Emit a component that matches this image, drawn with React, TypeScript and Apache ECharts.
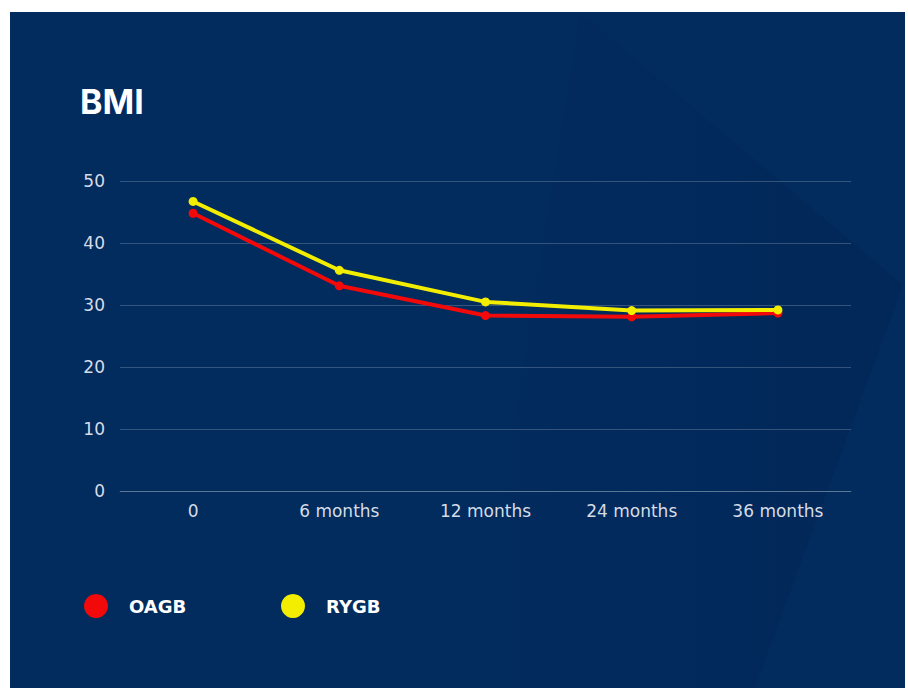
import React, { useEffect, useRef } from "react";
import * as echarts from "echarts";

const categories = ["0", "6 months", "12 months", "24 months", "36 months"];
const oagbValues = [44.8, 33.1, 28.3, 28.1, 28.7];
const rygbValues = [46.7, 35.6, 30.5, 29.1, 29.2];
const seriesNames = ["OAGB", "RYGB"];
const titleText = "BMI";

const FONT = "'DejaVu Sans', 'Noto Sans', sans-serif";
const TITLE_FONT = "Inter, 'Noto Sans', sans-serif";

export default function App() {
  const ref = useRef<HTMLDivElement>(null);
  useEffect(() => {
    if (!ref.current) return;
    const chart = echarts.init(ref.current, null, { renderer: "svg" });
    const gridColor = "rgba(255,255,255,0.2)";
    const legendText = {
      color: "#ffffff",
      fontSize: 18,
      fontWeight: "bold",
      fontFamily: FONT,
      padding: [0, 0, 0, 16],
    };
    chart.setOption({
      animation: false,
      backgroundColor: "#ffffff",
      graphic: [
        {
          type: "rect",
          z: -10,
          shape: { x: 10, y: 12, width: 895, height: 676 },
          style: { fill: "#022b5e" },
        },
        {
          type: "polygon",
          z: -9,
          shape: { points: [[580, 12], [903, 285], [755, 688], [470, 688]] },
          style: {
            fill: {
              type: "linear", x: 0, y: 0, x2: 1, y2: 0,
              colorStops: [
                { offset: 0, color: "rgba(0,20,60,0)" },
                { offset: 1, color: "rgba(0,20,60,0.15)" },
              ],
            },
          },
        },
      ],
      title: {
        text: titleText,
        left: 80,
        top: 84,
        padding: 0,
        textStyle: { color: "#ffffff", fontSize: 34, fontWeight: "bold", fontFamily: TITLE_FONT },
      },
      legend: [
        {
          data: [seriesNames[0]],
          left: 84,
          top: 594,
          padding: 0,
          icon: "circle",
          itemWidth: 24,
          itemHeight: 24,
          textStyle: legendText,
        },
        {
          data: [seriesNames[1]],
          left: 281,
          top: 594,
          padding: 0,
          icon: "circle",
          itemWidth: 24,
          itemHeight: 24,
          textStyle: legendText,
        },
      ],
      grid: { left: 120, right: 57, top: 181, bottom: 197, containLabel: false },
      xAxis: {
        type: "category",
        data: categories,
        boundaryGap: true,
        axisTick: { show: false },
        axisLine: { show: true, lineStyle: { color: gridColor, width: 1 } },
        axisLabel: { color: "#d6dce6", fontSize: 17, margin: 11, fontFamily: FONT },
      },
      yAxis: {
        type: "value",
        min: 0,
        max: 50,
        interval: 10,
        axisLine: { show: false },
        axisTick: { show: false },
        axisLabel: { color: "#d6dce6", fontSize: 17, margin: 15, fontFamily: FONT },
        splitLine: { lineStyle: { color: gridColor, width: 1 } },
      },
      series: [
        {
          name: seriesNames[0],
          type: "line",
          data: oagbValues,
          symbol: "circle",
          symbolSize: 9,
          itemStyle: { color: "#f20a0a" },
          lineStyle: { color: "#f20a0a", width: 4 },
        },
        {
          name: seriesNames[1],
          type: "line",
          data: rygbValues,
          symbol: "circle",
          symbolSize: 9,
          itemStyle: { color: "#f3ee00" },
          lineStyle: { color: "#f3ee00", width: 4 },
        },
      ],
    });
    return () => chart.dispose();
  }, []);
  return (
    <div
      ref={ref}
      style={{ position: "absolute", left: 0, top: 0, width: 908, height: 688 }}
    />
  );
}
